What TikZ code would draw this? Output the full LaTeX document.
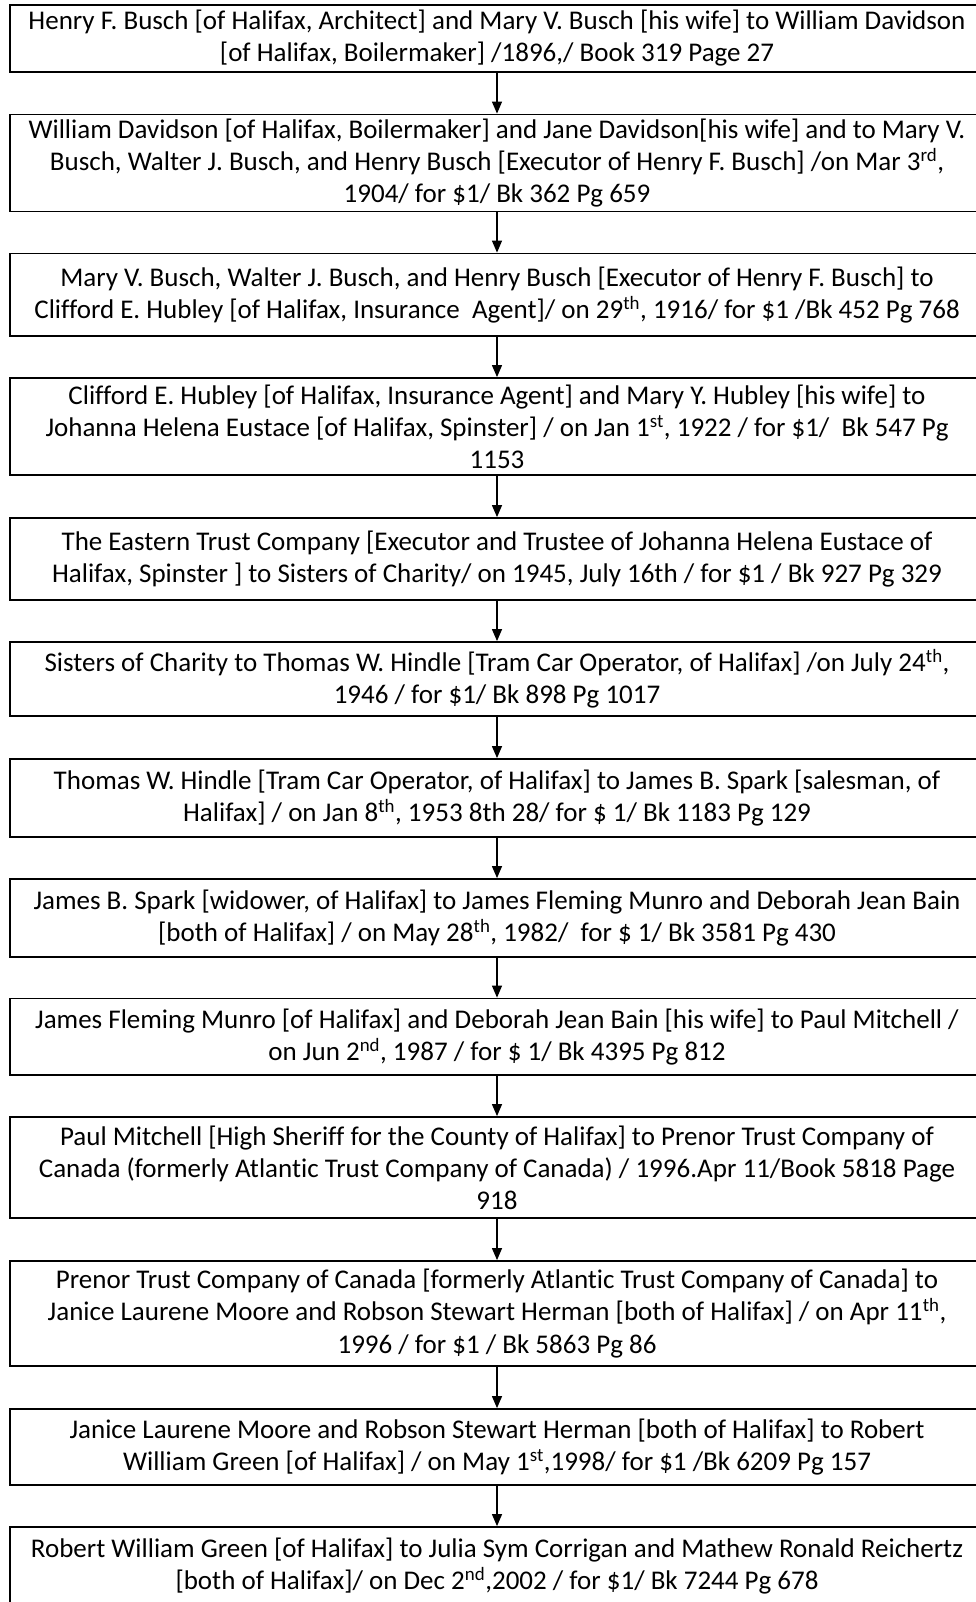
\documentclass[tikz,border=0pt]{standalone}
\usepackage{fontspec}
\setmainfont{Carlito}[Ligatures=NoCommon]
\usetikzlibrary{arrows.meta}

\begin{document}
\begin{tikzpicture}[x=1pt,y=1pt,
deed/.style={draw,rectangle,line width=1.8pt,inner sep=4pt,minimum width=974pt,align=center,
  font=\fontsize{27pt}{32.1pt}\selectfont},
link/.style={-{Triangle[length=12pt,width=10pt]},line width=1.2pt}]

\path[use as bounding box,fill=white] (0,0) rectangle (975,-1602);

\draw (497,-38.5) node[deed,minimum height=67pt] (d1) {Henry F. Busch [of Halifax, Architect] and Mary V. Busch [his wife] to William Davidson\\{}[of Halifax, Boilermaker] /1896,/ Book 319 Page 27};
\draw (497,-163) node[deed,minimum height=97pt] (d2) {William Davidson [of Halifax, Boilermaker] and Jane Davidson[his wife] and to Mary V.\\ Busch, Walter J. Busch, and Henry Busch [Executor of Henry F. Busch] /on Mar 3\textsuperscript{rd},\\ 1904/ for \$1/ Bk 362 Pg 659};
\draw (497,-294.75) node[deed,minimum height=82.5pt] (d3) {Mary V. Busch, Walter J. Busch, and Henry Busch [Executor of Henry F. Busch] to\\ Clifford E. Hubley [of Halifax, Insurance\ \ Agent]/ on 29\textsuperscript{th}, 1916/ for \$1 /Bk 452 Pg 768};
\draw (497,-426.5) node[deed,minimum height=97pt] (d4) {Clifford E. Hubley [of Halifax, Insurance Agent] and Mary Y. Hubley [his wife] to\\ Johanna Helena Eustace [of Halifax, Spinster] / on Jan 1\textsuperscript{st}, 1922 / for \$1/\ \ Bk 547 Pg\\ 1153};
\draw (497,-559) node[deed,minimum height=82pt] (d5) {The Eastern Trust Company [Executor and Trustee of Johanna Helena Eustace of\\ Halifax, Spinster ] to Sisters of Charity/ on 1945, July 16th / for \$1 / Bk 927 Pg 329};
\draw (497,-679) node[deed,minimum height=74pt] (d6) {Sisters of Charity to Thomas W. Hindle [Tram Car Operator, of Halifax] /on July 24\textsuperscript{th},\\ 1946 / for \$1/ Bk 898 Pg 1017};
\draw (497,-798) node[deed,minimum height=78pt] (d7) {Thomas W. Hindle [Tram Car Operator, of Halifax] to James B. Spark [salesman, of\\ Halifax] / on Jan 8\textsuperscript{th}, 1953 8th 28/ for \$ 1/ Bk 1183 Pg 129};
\draw (497,-918) node[deed,minimum height=78pt] (d8) {James B. Spark [widower, of Halifax] to James Fleming Munro and Deborah Jean Bain\\{}[both of Halifax] / on May 28\textsuperscript{th}, 1982/\ \ for \$ 1/ Bk 3581 Pg 430};
\draw (497,-1036.75) node[deed,minimum height=76.5pt] (d9) {James Fleming Munro [of Halifax] and Deborah Jean Bain [his wife] to Paul Mitchell /\\ on Jun 2\textsuperscript{nd}, 1987 / for \$ 1/ Bk 4395 Pg 812};
\draw (497,-1167.5) node[deed,minimum height=101pt] (d10) {Paul Mitchell [High Sheriff for the County of Halifax] to Prenor Trust Company of\\ Canada (formerly Atlantic Trust Company of Canada) / 1996.Apr 11/Book 5818 Page\\ 918};
\draw (497,-1313.5) node[deed,minimum height=105pt] (d11) {Prenor Trust Company of Canada [formerly Atlantic Trust Company of Canada] to\\ Janice Laurene Moore and Robson Stewart Herman [both of Halifax] / on Apr 11\textsuperscript{th},\\ 1996 / for \$1 / Bk 5863 Pg 86};
\draw (497,-1447) node[deed,minimum height=76pt] (d12) {Janice Laurene Moore and Robson Stewart Herman [both of Halifax] to Robert\\ William Green [of Halifax] / on May 1\textsuperscript{st},1998/ for \$1 /Bk 6209 Pg 157};
\draw (497,-1566) node[deed,minimum height=78pt] (d13) {Robert William Green [of Halifax] to Julia Sym Corrigan and Mathew Ronald Reichertz\\{}[both of Halifax]/ on Dec 2\textsuperscript{nd},2002 / for \$1/ Bk 7244 Pg 678};

\draw[link] (d1.south) -- (d2.north);
\draw[link] (d2.south) -- (d3.north);
\draw[link] (d3.south) -- (d4.north);
\draw[link] (d4.south) -- (d5.north);
\draw[link] (d5.south) -- (d6.north);
\draw[link] (d6.south) -- (d7.north);
\draw[link] (d7.south) -- (d8.north);
\draw[link] (d8.south) -- (d9.north);
\draw[link] (d9.south) -- (d10.north);
\draw[link] (d10.south) -- (d11.north);
\draw[link] (d11.south) -- (d12.north);
\draw[link] (d12.south) -- (d13.north);
\end{tikzpicture}
\end{document}
